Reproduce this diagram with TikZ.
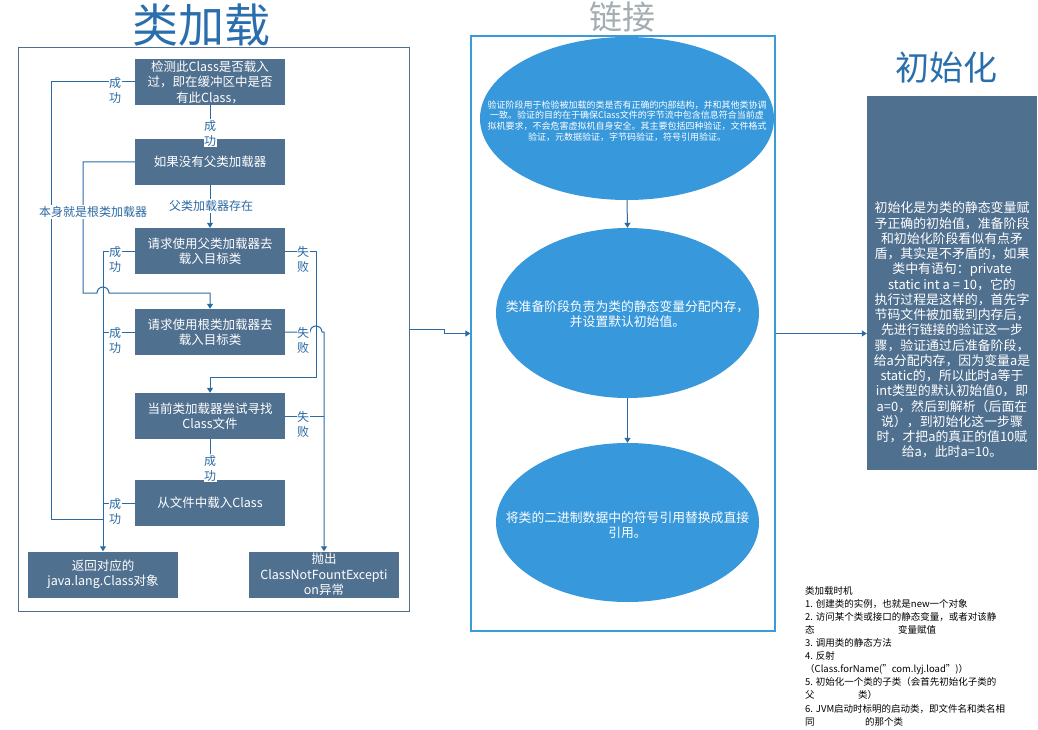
\documentclass[tikz,border=0pt]{standalone}
\usepackage{fontspec}
\setmainfont{Noto Sans CJK SC}
\usetikzlibrary{arrows.meta,shapes.geometric}

\definecolor{boxfill}{HTML}{50708F}
\definecolor{wire}{HTML}{2B6AA3}
\definecolor{sky}{HTML}{3798DB}
\definecolor{skyedge}{HTML}{3D9AD9}
\definecolor{paneledge}{HTML}{4F6F8F}
\definecolor{titleblue}{HTML}{2A6EAD}
\definecolor{titlegray}{HTML}{A3ADB2}

\newcommand\fsz[2]{\fontsize{#1}{#2}\selectfont}

\tikzset{
  stepbox/.style={fill=boxfill, text=white, minimum width=150pt, minimum height=46pt,
    inner sep=0pt, align=center, font=\fsz{12.5}{15.5}},
  wireline/.style={draw=wire, line width=1pt},
  wirearrow/.style={wireline, -{Triangle[width=6pt,length=5pt]}},
  vlabel/.style={fill=white, text=wire, inner sep=0.5pt, align=center, font=\fsz{12}{15}},
  hlabel/.style={fill=white, text=wire, inner sep=1pt, font=\fsz{12}{15}},
  bubble/.style={ellipse, fill=sky, draw=none, inner sep=0pt},
  bubbletext/.style={text=white, align=center, inner sep=0pt},
}

\begin{document}
\begin{tikzpicture}[x=1pt, y=-1pt]
\useasboundingbox (0,0) rectangle (1038,730);

% ---------- titles ----------
\node[text=titleblue, font=\fsz{46}{50}] (t1) at (201,25) {类加载};
\node[text=titlegray, font=\fsz{33}{38}, inner sep=0pt] (t2) at (622,17) {链接};
\node[text=titleblue, font=\fsz{34}{38}] (t3) at (946,68) {初始化};

% ---------- panels ----------
\node[draw=paneledge, line width=1pt, minimum width=391pt, minimum height=563pt, inner sep=0pt]
  (lp) at (213.5,329.5) {};
\node[draw=skyedge, line width=1.2pt, minimum width=304pt, minimum height=595pt, inner sep=0pt]
  (mp) at (623,333.5) {};
\node[fill=boxfill, minimum width=170pt, minimum height=374pt, inner sep=0pt]
  (rb) at (952,283) {};

% ---------- class loading steps ----------
\node[stepbox] (b1) at (210,82)  {检测此Class是否载入\\过，即在缓冲区中是否\\有此Class，};
\node[stepbox] (b2) at (210,162) {如果没有父类加载器};
\node[stepbox] (b3) at (210,251) {请求使用父类加载器去\\载入目标类};
\node[stepbox] (b4) at (210,332) {请求使用根类加载器去\\载入目标类};
\node[stepbox] (b5) at (210,416) {当前类加载器尝试寻找\\Class文件};
\node[stepbox] (b6) at (210,503) {从文件中载入Class};
\node[stepbox] (b7) at (103,574.5) {返回对应的\\java.lang.Class对象};
\node[stepbox] (b8) at (324,574.5) {抛出\\ClassNotFountExcepti\\on异常};

% ---------- connectors ----------
\draw[wirearrow] (b1.south) -- (b2.north);
\draw[wireline] (b1.west) -- (51,82) -- (51,519) -- (103,519);
\draw[wirearrow] (b2.west) -- (83,162) -- (83,293) -- (97,293) arc (180:0:6pt) -- (210,293) -- (b4.north);
\draw[wirearrow] (b2.south) -- (b3.north);
\draw[wirearrow] (b3.west) -- (103,251) -- (b7.north);
\draw[wireline] (b4.west) -- (103,332);
\draw[wireline] (b6.west) -- (103,503);
\draw[wirearrow] (b3.east) -- (316,251) -- (316,377) -- (210,377) -- (b5.north);
\draw[wirearrow] (b4.east) -- (310,332) arc (180:0:6pt) -- (324,332) -- (b8.north);
\draw[wireline] (b5.east) -- (324,416);
\draw[wirearrow] (b5.south) -- (b6.north);

% ---------- connector labels ----------
\node[vlabel] (l1) at (115,90)  {成\\功};
\node[vlabel] (l2) at (210,133) {成\\功};
\node[hlabel] (l3) at (93,212)  {本身就是根类加载器};
\node[hlabel] (l4) at (211,206) {父类加载器存在};
\node[vlabel] (l5) at (115,259) {成\\功};
\node[vlabel] (l6) at (303,259) {失\\败};
\node[vlabel] (l7) at (115,340) {成\\功};
\node[vlabel] (l8) at (303,340) {失\\败};
\node[vlabel] (l9) at (303,424) {失\\败};
\node[vlabel] (l10) at (210,468) {成\\功};
\node[vlabel] (l11) at (115,511) {成\\功};

% ---------- linking stages ----------
\node[bubble, minimum width=294pt, minimum height=163pt] (e1) at (627,118.5) {};
\node[bubbletext, font=\fsz{9}{10.7}] (e1t) at (627,121)
  {验证阶段用于检验被加载的类是否有正确的内部结构，并和其他类协调\\
   一致。验证的目的在于确保Class文件的字节流中包含信息符合当前虚\\
   拟机要求，不会危害虚拟机自身安全。其主要包括四种验证，文件格式\\
   验证，元数据验证，字节码验证，符号引用验证。};
\node[bubble, minimum width=263pt, minimum height=170pt] (e2) at (627.5,313) {};
\node[bubbletext, font=\fsz{12.8}{15}] (e2t) at (627.5,314.5)
  {类准备阶段负责为类的静态变量分配内存，\\并设置默认初始值。};
\node[bubble, minimum width=263pt, minimum height=159pt] (e3) at (627.5,522.5) {};
\node[bubbletext, font=\fsz{12.8}{15}] (e3t) at (627.5,525)
  {将类的二进制数据中的符号引用替换成直接\\引用。};
\draw[wirearrow] (e1.south) -- (e2.north);
\draw[wirearrow] (e2.south) -- (e3.north);

% ---------- panel links ----------
\draw[wirearrow] (lp.east) -- (444,329.5) -- (444,333.5) -- (mp.west);
\draw[wirearrow] (mp.east) -- (rb.west |- mp.east);

% ---------- initialisation text ----------
\node[text=white, align=center, inner sep=0pt, font=\fsz{12.9}{15.25}] (rt) at (952,330)
  {初始化是为类的静态变量赋\\
   予正确的初始值，准备阶段\\
   和初始化阶段看似有点矛\\
   盾，其实是不矛盾的，如果\\
   类中有语句：private\\
   static int a = 10，它的\\
   执行过程是这样的，首先字\\
   节码文件被加载到内存后，\\
   先进行链接的验证这一步\\
   骤，验证通过后准备阶段，\\
   给a分配内存，因为变量a是\\
   static的，所以此时a等于\\
   int类型的默认初始值0，即\\
   a=0，然后到解析（后面在\\
   说），到初始化这一步骤\\
   时，才把a的真正的值10赋\\
   给a，此时a=10。};

% ---------- notes ----------
\node[anchor=north west, align=left, inner sep=0pt, text=black, font=\fsz{9.5}{13.1}] (notes) at (805,586)
  {类加载时机\\
   1. 创建类的实例，也就是new一个对象\\
   2. 访问某个类或接口的静态变量，或者对该静\\
   \makebox[93pt][l]{态}变量赋值\\
   3. 调用类的静态方法\\
   4. 反射\\
   （Class.forName(”com.lyj.load”)）\\
   5. 初始化一个类的子类（会首先初始化子类的\\
   \makebox[53pt][l]{父}类）\\
   6. JVM启动时标明的启动类，即文件名和类名相\\
   \makebox[60pt][l]{同}的那个类};
\end{tikzpicture}
\end{document}
